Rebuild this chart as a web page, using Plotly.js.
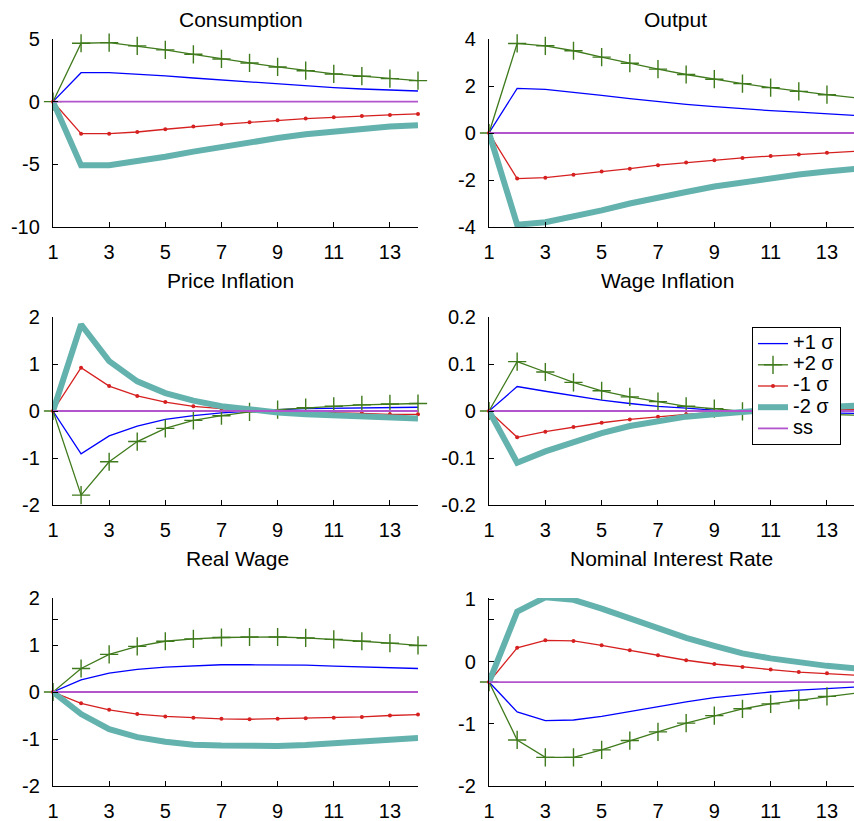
<!DOCTYPE html>
<html>
<head>
<meta charset="utf-8">
<script src="https://cdn.plot.ly/plotly-3.0.1.min.js"></script>
<style>html,body{margin:0;padding:0;background:#fff;}#chart{width:854px;height:821px;}</style>
</head>
<body>
<div id="chart"></div>
<script>
// ---- data ----
const periods = [1,2,3,4,5,6,7,8,9,10,11,12,13,14];
const seriesNames = ["+1 σ", "+2 σ", "-1 σ", "-2 σ", "ss"];
const panelTitles = ["Consumption", "Output", "Price Inflation", "Wage Inflation", "Real Wage", "Nominal Interest Rate"];
const xTickVals = [1,3,5,7,9,11,13];
const xTickText = ["1","3","5","7","9","11","13"];

// Consumption
const consP1 = [0,2.31,2.31,2.21,2.05,1.89,1.73,1.57,1.41,1.25,1.12,1.01,0.93,0.85];
const consP2 = [0,4.66,4.71,4.45,4.13,3.78,3.41,3.09,2.77,2.47,2.21,2.03,1.84,1.68];
const consM1 = [0,-2.55,-2.55,-2.42,-2.20,-1.99,-1.81,-1.65,-1.49,-1.35,-1.25,-1.14,-1.06,-0.98];
const consM2 = [0,-5.08,-5.08,-4.76,-4.39,-3.99,-3.59,-3.22,-2.90,-2.60,-2.37,-2.18,-1.99,-1.88];
const consSS = [0,0,0,0,0,0,0,0,0,0,0,0,0,0];
// Output
const outP1 = [0,1.90,1.86,1.74,1.60,1.46,1.33,1.22,1.12,1.03,0.95,0.89,0.82,0.75];
const outP2 = [0,3.81,3.71,3.50,3.23,2.97,2.72,2.49,2.29,2.10,1.93,1.77,1.63,1.50];
const outM1 = [0,-1.94,-1.90,-1.78,-1.64,-1.52,-1.37,-1.26,-1.16,-1.06,-0.98,-0.91,-0.84,-0.78];
const outM2 = [0,-3.90,-3.80,-3.57,-3.29,-3.00,-2.73,-2.51,-2.28,-2.10,-1.93,-1.77,-1.64,-1.53];
const outSS = [0,0,0,0,0,0,0,0,0,0,0,0,0,0];
// Price inflation
const piP1 = [0,-0.91,-0.53,-0.32,-0.18,-0.10,-0.04,0.00,0.03,0.05,0.06,0.07,0.07,0.08];
const piP2 = [0,-1.79,-1.08,-0.65,-0.37,-0.20,-0.10,-0.02,0.03,0.07,0.10,0.13,0.15,0.16];
const piM1 = [0,0.92,0.53,0.32,0.19,0.10,0.05,0.01,-0.01,-0.02,-0.03,-0.05,-0.07,-0.07];
const piM2 = [0,1.84,1.06,0.63,0.38,0.22,0.10,0.02,-0.03,-0.07,-0.10,-0.12,-0.15,-0.16];
const piSS = [0,0,0,0,0,0,0,0,0,0,0,0,0,0];
// Wage inflation
const wiP1 = [0,0.052,0.042,0.032,0.023,0.016,0.010,0.006,0.002,0.000,-0.002,-0.003,-0.004,-0.005];
const wiP2 = [0,0.105,0.083,0.061,0.043,0.030,0.020,0.010,0.005,-0.001,-0.004,-0.006,-0.008,-0.009];
const wiM1 = [0,-0.056,-0.044,-0.034,-0.025,-0.018,-0.012,-0.007,-0.003,-0.001,0.001,0.002,0.003,0.003];
const wiM2 = [0,-0.110,-0.086,-0.065,-0.047,-0.032,-0.021,-0.012,-0.007,-0.001,0.003,0.006,0.009,0.011];
const wiSS = [0,0,0,0,0,0,0,0,0,0,0,0,0,0];
// Real wage
const rwP1 = [0,0.26,0.40,0.48,0.53,0.56,0.58,0.58,0.58,0.57,0.55,0.53,0.52,0.50];
const rwP2 = [0,0.50,0.80,0.97,1.08,1.13,1.16,1.17,1.17,1.15,1.12,1.08,1.04,0.99];
const rwM1 = [0,-0.24,-0.38,-0.47,-0.52,-0.55,-0.57,-0.58,-0.57,-0.56,-0.55,-0.53,-0.50,-0.48];
const rwM2 = [0,-0.47,-0.79,-0.96,-1.06,-1.12,-1.14,-1.15,-1.15,-1.13,-1.10,-1.07,-1.02,-0.98];
const rwSS = [0,0,0,0,0,0,0,0,0,0,0,0,0,0];
// Nominal interest rate
const irP1 = [-0.33,-0.81,-0.95,-0.94,-0.88,-0.80,-0.72,-0.65,-0.58,-0.53,-0.49,-0.46,-0.43,-0.41];
const irP2 = [-0.33,-1.26,-1.54,-1.54,-1.42,-1.27,-1.13,-0.99,-0.87,-0.76,-0.68,-0.62,-0.56,-0.51];
const irM1 = [-0.33,0.22,0.34,0.33,0.26,0.18,0.10,0.02,-0.04,-0.09,-0.13,-0.17,-0.19,-0.22];
const irM2 = [-0.33,0.80,1.03,0.99,0.85,0.69,0.53,0.38,0.25,0.13,0.05,-0.02,-0.07,-0.11];
const irSS = [-0.33,-0.33,-0.33,-0.33,-0.33,-0.33,-0.33,-0.33,-0.33,-0.33,-0.33,-0.33,-0.33,-0.33];

// y tick labels per panel
const consTicks = [-10,-5,0,5];
const outTicks = [-4,-2,0,2,4];
const piTicks = [-2,-1,0,1,2];
const wiTicks = [-0.2,-0.1,0,0.1,0.2];
const rwTicks = [-2,-1,0,1,1.55,2];
const rwTickText = ["-2","-1","0","1","","2"];
const irTicks = [-2,-1,0,0.67,1];
const irTickText = ["-2","-1","0","","1"];

// ---- build ----
const FONT = "Liberation Sans, Arial, Helvetica, sans-serif";
const styles = [
  {color:"#0000ff", width:1.3, mode:"lines"},
  {color:"#3f7a1c", width:1.3, mode:"lines+markers", marker:{symbol:"cross-thin", size:13, color:"#3f7a1c", line:{color:"#3f7a1c", width:1.4}}},
  {color:"#d62020", width:1.3, mode:"lines+markers", marker:{symbol:"circle", size:4, color:"#d62020"}},
  {color:"#63b2ae", width:6, mode:"lines"},
  {color:"#b255cc", width:1.8, mode:"lines"}
];
const panels = [
  {series:[consP1,consP2,consM1,consM2,consSS], range:[-10,5], tv:consTicks, tt:consTicks.map(String)},
  {series:[outP1,outP2,outM1,outM2,outSS], range:[-4,4], tv:outTicks, tt:outTicks.map(String)},
  {series:[piP1,piP2,piM1,piM2,piSS], range:[-2,2], tv:piTicks, tt:piTicks.map(String)},
  {series:[wiP1,wiP2,wiM1,wiM2,wiSS], range:[-0.2,0.2], tv:wiTicks, tt:wiTicks.map(String)},
  {series:[rwP1,rwP2,rwM1,rwM2,rwSS], range:[-2,2], tv:rwTicks, tt:rwTickText},
  {series:[irP1,irP2,irM1,irM2,irSS], range:[-2,1.02], tv:irTicks, tt:irTickText}
];

const W = 854, H = 821;
const xDomL = [53/W, 418/W], xDomR = [489/W, 1];
const yDoms = [[1-227/H, 1-39/H], [1-505/H, 1-317/H], [1-786/H, 1-598/H]];
const titlePos = [[241,19],[675,19],[230,280],[667,280],[238,558],[671,558]];

const traces = [];
const layout = {
  width: W, height: H,
  margin:{l:0,r:0,t:0,b:0},
  paper_bgcolor:"#fff", plot_bgcolor:"#fff",
  font:{family:FONT, size:20, color:"#000"},
  showlegend:true,
  legend:{x:752/W, y:1-327/H, xanchor:"left", yanchor:"top", bgcolor:"#fff",
          bordercolor:"#000", borderwidth:1, font:{family:FONT, size:14, color:"#000"},
          tracegroupgap:0, itemwidth:30, entrywidth:96, entrywidthmode:"pixels"},
  annotations:[]
};

panels.forEach((p, i) => {
  const n = i + 1;
  const xa = "x" + (n === 1 ? "" : n), ya = "y" + (n === 1 ? "" : n);
  p.series.forEach((s, k) => {
    const st = styles[k];
    const tr = {
      x: periods, y: s, xaxis: xa, yaxis: ya, type:"scatter", mode: st.mode,
      name: '<span style="font-size:20px">' + seriesNames[k] + '</span>',
      legendgroup: seriesNames[k], showlegend: i === 3,
      line:{color: st.color, width: st.width}, cliponaxis:false, hoverinfo:"skip"
    };
    if (st.marker) tr.marker = st.marker;
    traces.push(tr);
  });
  const right = i % 2 === 1;
  const row = Math.floor(i / 2);
  const axCommon = {showline:true, linecolor:"#000", linewidth:1.2, ticks:"inside", ticklen:5,
    tickwidth:1, tickcolor:"#000", showgrid:false, zeroline:false, fixedrange:true,
    tickfont:{family:FONT, size:20, color:"#000"}};
  layout["xaxis" + (n === 1 ? "" : n)] = Object.assign({}, axCommon, {
    domain: right ? xDomR : xDomL, range: right ? [1, 13.96] : [1, 14],
    anchor: ya, tickmode:"array", tickvals: xTickVals, ticktext: xTickText, ticklabelstandoff: 7
  });
  layout["yaxis" + (n === 1 ? "" : n)] = Object.assign({}, axCommon, {
    domain: yDoms[row], range: p.range, anchor: xa,
    tickmode:"array", tickvals: p.tv, ticktext: p.tt, ticklabelstandoff: 8
  });
  layout.annotations.push({
    text: panelTitles[i], xref:"paper", yref:"paper",
    x: titlePos[i][0]/W, y: 1 - titlePos[i][1]/H, xanchor:"center", yanchor:"middle",
    showarrow:false, font:{family:FONT, size:21, color:"#000"}
  });
});

Plotly.newPlot("chart", traces, layout, {displayModeBar:false, staticPlot:true});
</script>
</body>
</html>
